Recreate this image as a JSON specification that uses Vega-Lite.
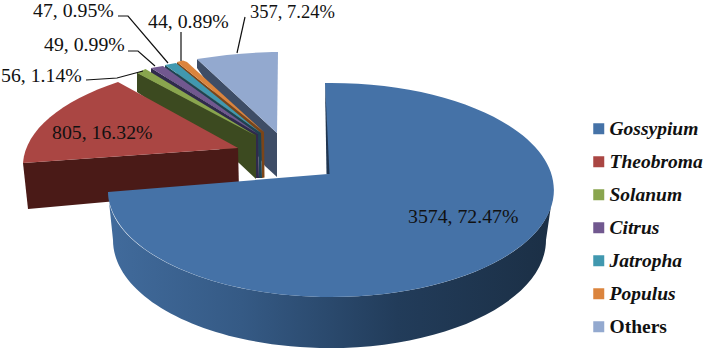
{
"$schema":"https://vega.github.io/schema/vega-lite/v6.json",
"width":709,"height":349,"padding":0,
"autosize":{"type":"fit","contains":"padding"},
"background":"white",
"view":{"stroke":null},
"data":{"values":[
{"genus":"Others","count":357,"pct":7.24,"label":"357, 7.24%"},
{"genus":"Populus","count":44,"pct":0.89,"label":"44, 0.89%"},
{"genus":"Jatropha","count":47,"pct":0.95,"label":"47, 0.95%"},
{"genus":"Citrus","count":49,"pct":0.99,"label":"49, 0.99%"},
{"genus":"Solanum","count":56,"pct":1.14,"label":"56, 1.14%"},
{"genus":"Theobroma","count":805,"pct":16.32,"label":"805, 16.32%"},
{"genus":"Gossypium","count":3574,"pct":72.47,"label":"3574, 72.47%"}
]},
"layer":[
{"mark":{"type":"point","filled":true,"opacity":1,"size":0,"strokeWidth":0},
 "encoding":{
  "color":{"field":"genus","type":"nominal","title":null,
   "scale":{"domain":["Gossypium","Theobroma","Solanum","Citrus","Jatropha","Populus","Others"],"range":["#4572a7","#aa4643","#89a54e","#71588f","#4198af","#db843d","#93a9cf"]},
   "legend":{"orient":"none","legendX":589,"legendY":119,"padding":0,"symbolType":"square","symbolSize":121,"symbolStrokeWidth":0,"labelFont":"Liberation Serif","labelFontSize":19.5,"labelFontWeight":"bold","labelFontStyle":{"expr":"datum.value==='Others'?'normal':'italic'"},"labelColor":"#111111","labelOffset":1,"rowPadding":12,"labelLimit":120}}
 }},
{"transform":[{"filter":"datum.genus!=='Gossypium'"}],
 "mark":{"type":"point","filled":true,"opacity":1,"size":4,"strokeWidth":0},
 "encoding":{
  "shape":{"field":"genus","type":"nominal","legend":null,"scale":{"domain":["Others","Populus","Jatropha","Citrus","Solanum","Theobroma"],"range":[
   "M-157.5 -115.5L-77.5 -41.5L-77.5 2.5L-89.5 -8.5L-157.5 -106.5Z",
   "M-177.5 -112.5L-90.5 -42.5L-90 3L-92.5 3.5L-93.5 -41.5L-177.5 -100Z",
   "M-189.5 -109.5L-93.5 -41.5L-92.5 3.5L-95.5 3.5L-96.5 -40.5L-189.5 -98Z",
   "M-203.5 -106.5L-96.5 -40.5L-95.5 3.5L-98.5 3.5L-98.5 -37.5L-203.5 -95Z",
   "M-217.5 -102L-98.5 -39.5L-98.5 4.5L-115.5 -11.5L-217.5 -82.5Z",
   "M-331.5 -11.5L-116.5 -26.5L-115.5 15.5L-326.5 34.5Z"
  ]}},
  "color":{"field":"genus","type":"nominal","legend":null,"scale":{"domain":["Others","Populus","Jatropha","Citrus","Solanum","Theobroma"],"range":["#3e4d66","#7b4518","#1f4350","#2f2a4c","#3c4a20","#4a1a17"]}}
 }},
{"transform":[{"filter":{"field":"genus","equal":"Gossypium"}}],
 "mark":{"type":"point","filled":true,"opacity":1,"size":4,"strokeWidth":0,
  "shape":"M-246.5 17.5L-241.5 65.5C-241.5 125.1 -144.6 173.5 -25 173.5C94.6 173.5 191.5 125.1 191.5 65.5L198.5 17.5C198.5 74.6 99.6 122.5 -23.6 122.5C-146.8 122.5 -246.6 74.6 -246.5 17.5Z",
  "fill":{"gradient":"linear","x1":0,"y1":0,"x2":1,"y2":0,"stops":[{"offset":0,"color":"#416b9c"},{"offset":0.3,"color":"#355a85"},{"offset":0.65,"color":"#223c5a"},{"offset":1,"color":"#1b2f45"}]}},
 "encoding":{}},
{"mark":{"type":"point","filled":true,"opacity":1,"size":4,"strokeWidth":0},
 "encoding":{
  "shape":{"field":"genus","type":"nominal","legend":null,"scale":{"domain":["Gossypium","Theobroma","Solanum","Citrus","Jatropha","Populus","Others"],"range":[
   "M-29.5 -91.5L-23.6 -91.5C99.6 -91.5 199.4 -43.6 199.4 15.5C199.4 74.6 99.6 122.5 -23.6 122.5C-146.8 122.5 -246.6 74.6 -246.6 15.5L-246.5 17.5L-26.5 -0.5Z",
   "M-236.5 -92.5L-116.5 -26.5L-331.5 -11.5C-329.1 -44.5 -293.6 -73.6 -236.5 -92.5Z",
   "M-217.5 -101.5L-209 -105.5L-99 -39Z",
   "M-203.5 -106.5L-191.5 -108.5L-96.5 -40.5Z",
   "M-189.5 -109.5L-178.5 -111.5L-93.5 -41.5Z",
   "M-177.5 -112.5L-171.5 -114L-167.5 -112.5L-90.5 -42.5Z",
   "M-157.5 -115.5C-130 -120 -100 -122.5 -76.5 -122.5L-77.5 -41.5Z"
  ]}},
  "color":{"field":"genus","type":"nominal","legend":null,
   "scale":{"domain":["Gossypium","Theobroma","Solanum","Citrus","Jatropha","Populus","Others"],"range":["#4572a7","#aa4643","#89a54e","#71588f","#4198af","#db843d","#93a9cf"]}}
 }},
{"transform":[{"filter":{"field":"genus","equal":"Gossypium"}}],
 "mark":{"type":"point","filled":true,"opacity":1,"size":4,"strokeWidth":0,"fill":"#1f3550",
  "shape":"M-29.5 -91.5L-25 -0.5L-28 -0.5Z"},
 "encoding":{}},
{"transform":[{"filter":{"field":"genus","oneOf":["Others","Populus","Jatropha","Citrus","Solanum"]}}],
 "mark":{"type":"point","filled":false,"opacity":1,"size":4,"stroke":"#111111","strokeWidth":1.2},
 "encoding":{
  "shape":{"field":"genus","type":"nominal","legend":null,"scale":{"domain":["Others","Populus","Jatropha","Citrus","Solanum"],"range":[
   "M-109.5 -157.5L-117.5 -121.5",
   "M-173.5 -142.5L-173.5 -113.5",
   "M-236.5 -158.5L-226.5 -158.5L-186.5 -111.5",
   "M-226.5 -123.5L-216.5 -123.5L-199.5 -108.5",
   "M-268.5 -94.5L-237.5 -96.5L-211.5 -103.5"
  ]}}
 }},
{"mark":{"type":"text","font":"Liberation Serif","fontSize":{"expr":"datum.genus==='Others'?18.5:19.8"},"align":"left","baseline":"middle","color":"#111111",
  "dx":{"expr":"{'Others':-104.5,'Populus':-206.5,'Jatropha':-321.5,'Citrus':-310.5,'Solanum':-353.5,'Theobroma':-302.5,'Gossypium':53.5}[datum.genus]"},
  "dy":{"expr":"{'Others':-162.5,'Populus':-152.5,'Jatropha':-163.5,'Citrus':-129.5,'Solanum':-98.5,'Theobroma':-41.5,'Gossypium':42.5}[datum.genus]"}},
 "encoding":{"text":{"field":"label","type":"nominal"}}}
],
"resolve":{"scale":{"shape":"independent","color":"independent"}}
}
